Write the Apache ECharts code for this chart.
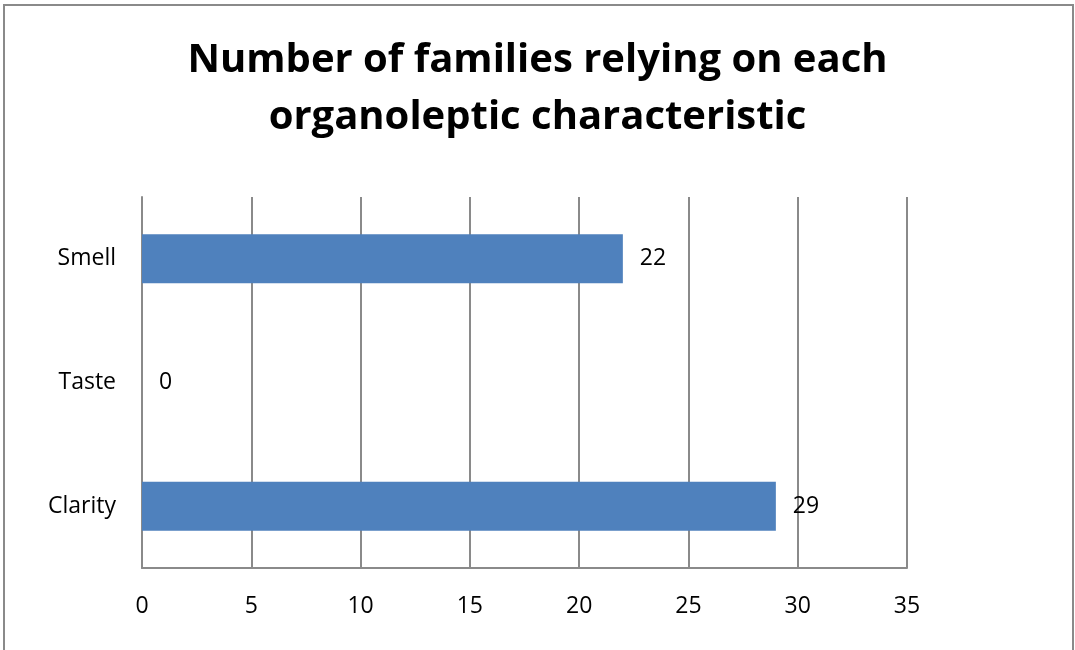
<!DOCTYPE html>
<html>
<head>
<meta charset="utf-8">
<script src="https://cdn.jsdelivr.net/npm/echarts@6/dist/echarts.min.js"></script>
<style>
  html, body { margin: 0; padding: 0; background: #ffffff; }
  #chart { width: 1075px; height: 650px; }
</style>
</head>
<body>
<div id="chart"></div>
<script>
// Organoleptic characteristics, listed bottom to top
const categories = ['Clarity', 'Taste', 'Smell'];
const families = [29, 0, 22];
const xTicks = { min: 0, max: 35, interval: 5 };

const gray = '#8a8a8a';
const font = '"Open Sans", "Noto Sans", sans-serif';

const chart = echarts.init(document.getElementById('chart'), null, { renderer: 'canvas' });
chart.setOption({
  backgroundColor: '#ffffff',
  animation: false,
  title: {
    text: 'Number of families relying on each\norganoleptic characteristic',
    left: 'center',
    top: 27,
    textStyle: {
      fontFamily: font,
      fontWeight: 'bold',
      fontSize: 40,
      lineHeight: 57,
      color: '#000000'
    }
  },
  graphic: [{
    type: 'rect',
    shape: { x: 4, y: 5, width: 1069, height: 700 },
    style: { fill: 'none', stroke: gray, lineWidth: 2 },
    silent: true,
    z: -1
  }],
  grid: { left: 142, right: 168, top: 197, height: 371 },
  xAxis: {
    type: 'value',
    min: xTicks.min,
    max: xTicks.max,
    interval: xTicks.interval,
    axisLine: { show: true, lineStyle: { color: gray, width: 2 } },
    axisTick: { show: false },
    splitLine: { show: true, lineStyle: { color: gray, width: 2 } },
    axisLabel: { margin: 27, color: '#000000', fontFamily: font, fontSize: 23 }
  },
  yAxis: {
    type: 'category',
    data: categories,
    axisLine: { show: true, lineStyle: { color: gray, width: 2 } },
    axisTick: { show: false },
    splitLine: { show: false },
    axisLabel: { margin: 26, color: '#000000', fontFamily: font, fontSize: 23 }
  },
  series: [{
    type: 'bar',
    data: families,
    barWidth: 49,
    itemStyle: { color: '#4f81bd' },
    label: {
      show: true,
      position: 'right',
      distance: 17,
      color: '#000000',
      fontFamily: font,
      fontSize: 23
    }
  }]
});
</script>
</body>
</html>
